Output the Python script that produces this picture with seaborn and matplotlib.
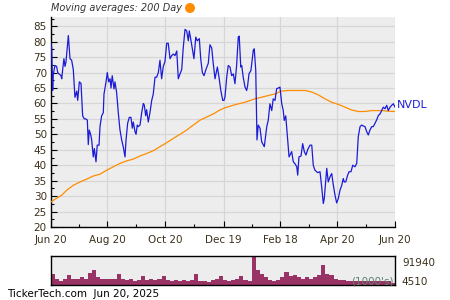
import matplotlib
matplotlib.use("Agg")
import matplotlib.pyplot as plt
import seaborn as sns
import pandas as pd
from matplotlib.ticker import MultipleLocator, FixedLocator
from matplotlib.patches import Ellipse

# ---- data (trading-day position, value) ----
price_t = [0, 0.5, 1.2, 1.7, 2.9, 4.1, 4.9, 6.0, 7.3, 7.8, 8.5, 9.4, 10.2, 10.9, 12.6, 13.8,
           15.0, 16.2, 17.4, 18.7, 19.4, 20.6, 21.8, 23.0, 24.2, 25.4, 26.4, 27.1, 27.8, 28.9,
           29.6, 30.7, 31.5, 32.7, 33.6, 34.9, 35.6, 36.8, 38.0, 38.5, 40.0, 40.9, 41.9, 42.9,
           43.6, 44.5, 45.8, 46.5, 47.7, 48.9, 50.1, 51.4, 52.5, 53.8, 54.5, 55.7, 56.9, 58.1,
           59.1, 59.8, 61.0, 61.8, 62.7, 63.4, 64.7, 65.9, 67.1, 67.8, 68.8, 69.5, 70.7, 71.9,
           73.2, 74.3, 75.6, 76.8, 78.0, 79.2, 80.4, 81.6, 82.8, 84.1, 85.2, 86.5, 87.7, 88.9,
           90.1, 91.4, 92.5, 93.7, 95.0, 96.1, 97.4, 98.6, 99.8, 100.5, 101.5, 103.0, 103.9,
           105.2, 106.3, 107.8, 108.8, 110.0, 111.2, 112.6, 114.3, 115.5, 116.8, 117.9, 119.2,
           120.9, 122.1, 123.3, 124.8, 125.7, 126.4, 127.7, 128.8, 130.1, 131.3, 132.5, 133.7,
           134.9, 136.1, 136.8, 137.9, 138.6, 139.7, 141.0, 142.2, 142.9, 143.9, 145.3, 147.0,
           147.7, 148.8, 149.7, 150.6, 151.9, 153.1, 155.0, 156.8, 157.9, 159.1, 160.4, 161.5,
           162.8, 164.0, 165.2, 166.4, 167.7, 168.8, 169.5, 170.6, 171.3, 172.0, 173.0, 174.2,
           174.9, 176.1, 177.3, 178.6, 179.3, 180.2, 181.7, 182.9, 184.1, 185.3, 186.5, 188.2,
           189.5, 190.6, 191.8, 193.8, 195.5, 196.7, 197.9, 198.6, 200.4, 201.5, 202.8, 204.0,
           205.2, 206.4, 207.6, 208.8, 210.0, 211.3, 212.4, 213.1, 214.2, 215.6, 216.6, 218.0,
           219.3, 220.9, 222.2, 223.3, 224.6, 225.8, 227.0, 228.2, 229.4, 230.6, 231.8, 233.1,
           234.2, 235.5, 236.7, 237.9, 239.1, 240.3, 241.5, 242.7, 244.0, 245.1, 246.4, 247.6,
           248.8, 250.0]
price = [79.4, 78, 64.2, 69.6, 72.3, 72, 70, 69.5, 69, 68, 71, 74.5, 72, 73.5, 82, 74.5,
         74, 71, 62, 64, 61, 67, 66.5, 56, 55, 55, 54.6, 46.7, 51.4, 49.8,
         48.1, 42.7, 45.4, 41.1, 46.5, 46.5, 52.5, 56, 57, 63, 67, 70, 67, 68,
         65, 69, 64.7, 67, 63.5, 57, 51.5, 48.1, 46, 42.7, 48.1, 53.6, 55.5, 55.5,
         52, 54, 51, 50, 53, 52.5, 53, 57, 60, 59.5, 56, 58, 54, 57,
         61, 63, 68.5, 68.5, 70, 74, 68, 72, 73.5, 79.5, 79.5, 74.5, 75.5, 76,
         75.5, 77, 68, 69.5, 71, 78, 84, 83.5, 80.3, 83.5, 81, 77, 74.5,
         81.5, 80.3, 81, 74.5, 70, 69, 71, 73, 79, 78, 73, 68,
         71.8, 68.5, 64.5, 61, 61, 62, 68.5, 72.3, 71.8, 69, 69.6, 66.4,
         72.3, 81.5, 81.8, 71.8, 72.3, 68.5, 65.3, 64.2, 65.8, 69.6, 70.7, 77.2,
         77.7, 70.7, 48.2, 53, 52, 47.6, 46, 52.5, 54.6, 59.9, 57.7, 61.5,
         61, 64.8, 65, 65.3, 59.9, 57.7, 54.5, 56, 52, 48.2, 42.7, 43.8,
         44.4, 41.1, 40.5, 39.5, 36.8, 42.7, 43, 47, 44.4, 43.3, 45, 46.5,
         46.5, 40, 38.4, 37.6, 37.9, 33, 27.6, 29.2, 39, 34.6, 36.3, 37.3,
         33.5, 30.3, 27.8, 29.2, 31.9, 33.5, 35.7, 34.6, 34.6, 36.8, 37.9, 37.9,
         40, 39.5, 40.6, 49.2, 52.5, 53, 52.7, 52.5, 50.9, 49.8, 51.4, 52.5,
         52.5, 53.6, 54.7, 56.1, 56.6, 57.7, 58.8, 58.3, 59.4, 57.7, 58.8, 59.4,
         59.9, 58.8]

ma_t = [0, 2.9, 7.8, 11.4, 16.2, 21.1, 25.9, 30.7, 35.6, 40.5, 45.3, 50.1, 55.0, 59.8,
        64.7, 69.5, 74.3, 79.2, 84.1, 88.9, 93.7, 98.6, 103.4, 108.3, 113.1, 117.9, 122.8,
        126.4, 133.7, 141.0, 148.2, 155.5, 162.8, 167.6, 172.4, 177.3, 184.6, 189.5, 194.2,
        199.1, 204.0, 208.8, 213.7, 218.5, 223.3, 228.2, 233.1, 240.3, 245.1, 250.0]
ma200 = [28.1, 29, 30.3, 31.9, 33.5, 34.6, 35.5, 36.5, 37.1, 38.4, 39.5, 40.6, 41.4, 42,
         43, 43.8, 44.7, 46, 47.3, 48.7, 50, 51.4, 53, 54.6, 55.6, 56.6, 57.9,
         58.6, 59.6, 60.4, 61.5, 62.3, 63.1, 64, 64.2, 64.2, 64.2, 63.7, 62.8,
         61.5, 60.4, 59.7, 58.8, 57.9, 57.4, 57.4, 57.7, 57.7, 57.5, 57.4]

# volume in thousands, one bar per 3 trading days
volume = [37, 18, 14, 18, 32, 18, 18, 27, 21, 40, 48, 27, 21, 21, 18, 21, 37, 18, 16, 18,
          14, 16, 29, 16, 18, 16, 18, 29, 16, 14, 16, 14, 16, 14, 16, 37, 14, 14, 11, 16,
          18, 29, 16, 14, 16, 18, 29, 16, 14, 92, 50, 35, 25, 16, 14, 16, 27, 43, 29, 32,
          27, 21, 27, 18, 27, 32, 64, 37, 32, 21, 16, 16, 14, 14, 14, 14, 14, 14, 14, 14,
          14, 14, 12, 8]

x_tick_pos = [0, 41, 83, 125.5, 166.5, 208, 250]
x_tick_labels = ["Jun 20", "Aug 20", "Oct 20", "Dec 19", "Feb 18", "Apr 20", "Jun 20"]
y_ticks = [20, 25, 30, 35, 40, 45, 50, 55, 60, 65, 70, 75, 80, 85]

BLUE = "#1c1cd8"
ORANGE = "#ff8c00"
TXT = "#3b311c"
BG = "#ededed"
GRID = "#d6d6d6"

sns.set_theme(style="white")
plt.rcParams['font.family'] = ['DejaVu Sans']

fig = plt.figure(figsize=(4.5, 3.0), dpi=100)
fig.patch.set_facecolor("white")

ax = fig.add_axes([51/450, 1-227/300, 344/450, 210/300])
ax.set_facecolor(BG)

df_p = pd.DataFrame({"t": price_t, "v": price})
df_m = pd.DataFrame({"t": ma_t, "v": ma200})
sns.lineplot(data=df_m, x="t", y="v", ax=ax, color=ORANGE, linewidth=0.9, zorder=3)
sns.lineplot(data=df_p, x="t", y="v", ax=ax, color=BLUE, linewidth=0.9, zorder=4)

ax.set_xlim(0, 250)
ax.set_ylim(20, 88)
ax.set_xlabel("")
ax.set_ylabel("")
ax.xaxis.set_major_locator(FixedLocator(x_tick_pos))
ax.set_xticklabels(x_tick_labels)
mids = [(x_tick_pos[i] + x_tick_pos[i+1]) / 2 for i in range(len(x_tick_pos)-1)]
ax.xaxis.set_minor_locator(FixedLocator(mids))
ax.set_yticks(y_ticks)
ax.yaxis.set_minor_locator(MultipleLocator(2.5))
ax.grid(True, which="major", color=GRID, linewidth=0.9)
ax.tick_params(axis="both", which="both", direction="in", colors="black",
               labelcolor=TXT, labelsize=7.5, left=True, bottom=True)
ax.tick_params(axis="both", which="major", length=4, width=0.8)
ax.tick_params(axis="both", which="minor", length=2.5, width=0.8)
ax.tick_params(axis="x", pad=6)
ax.tick_params(axis="y", pad=3)
for s in ["top", "right"]:
    ax.spines[s].set_visible(False)
for s in ["left", "bottom"]:
    ax.spines[s].set_color("black")
    ax.spines[s].set_linewidth(1.0)

ax.text(1.005, 59.5, "NVDL", transform=ax.get_yaxis_transform(), color=BLUE,
        fontsize=8, va="center", ha="left")

# volume panel
vax = fig.add_axes([51/450, 1-285/300, 344/450, 29/300])
vax.set_facecolor(BG)
bar_w = 250 / len(volume)
bar_x = [bar_w * (i + 0.5) for i in range(len(volume))]
vax.bar(bar_x, volume, width=bar_w, color="#993366", linewidth=0)
vax.set_xlim(0, 250)
vax.set_ylim(0, 94)
vax.set_xticks([])
vax.set_yticks([])
for s in vax.spines.values():
    s.set_visible(True)
    s.set_color("black")
    s.set_linewidth(1.0)
vax.text(1.02, 0.75, "91940", transform=vax.transAxes, fontsize=7.5, color=TXT,
         va="center", ha="left")
vax.text(1.02, 0.1, "4510", transform=vax.transAxes, fontsize=7.5, color=TXT,
         va="center", ha="left")
vax.text(0.995, 0.12, "(1000's)", transform=vax.transAxes, fontsize=7.5,
         color="#5f8070", va="center", ha="right")

fig.text(51/450, 1-8/300, "Moving averages: 200 Day", fontsize=7, style="italic",
         color="#333333", va="center", ha="left")
fig.patches.append(Ellipse((190/450, 1-8/300), 10/450, 10/300, transform=fig.transFigure,
                           facecolor=ORANGE, edgecolor="none", figure=fig))
fig.text(7/450, 1-294/300, "TickerTech.com  Jun 20, 2025", fontsize=7.5, color="black",
         va="center", ha="left")

fig.savefig("out.png", dpi=100)
